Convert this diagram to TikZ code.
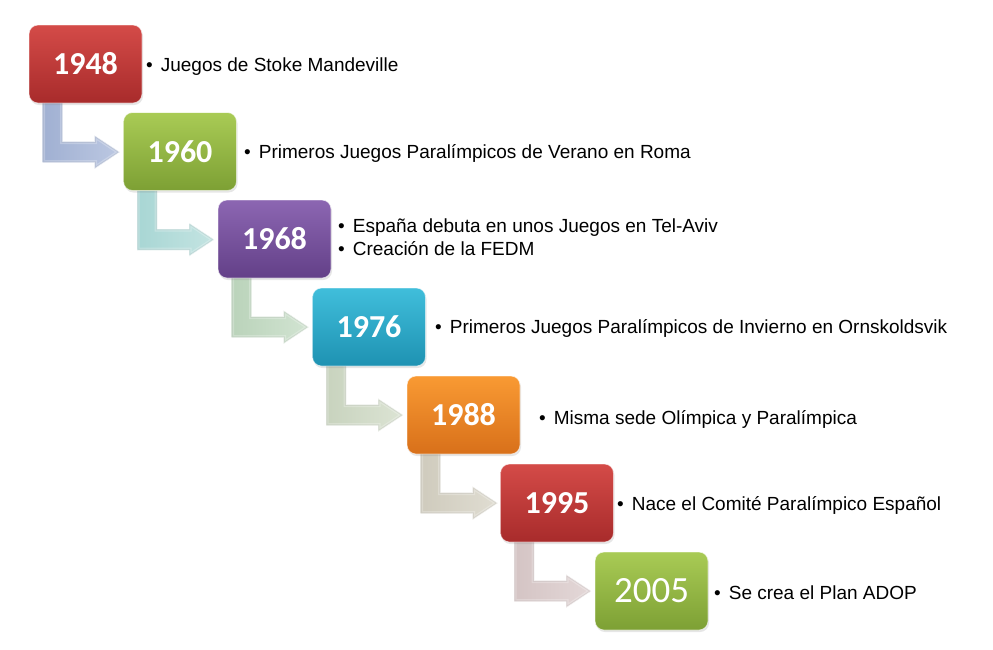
\documentclass[tikz,border=0pt]{standalone}
\usepackage{fontspec}
\setmainfont{Liberation Sans}
\newfontfamily\yearfont{Carlito}
\usetikzlibrary{calc,shadows,backgrounds}
\definecolor{redT}{HTML}{D44B48}
\definecolor{redB}{HTML}{A82B2B}
\definecolor{grnT}{HTML}{A9CB55}
\definecolor{grnB}{HTML}{7DA034}
\definecolor{purT}{HTML}{8C66B2}
\definecolor{purB}{HTML}{634088}
\definecolor{cyaT}{HTML}{40BEDB}
\definecolor{cyaB}{HTML}{1E92B2}
\definecolor{orgT}{HTML}{F99A33}
\definecolor{orgB}{HTML}{D8701A}
\definecolor{arA}{HTML}{A0B0D2}
\definecolor{arAl}{HTML}{BCC8E2}
\definecolor{arB}{HTML}{A8D6D4}
\definecolor{arBl}{HTML}{C4E4E2}
\definecolor{arC}{HTML}{BAD3BA}
\definecolor{arCl}{HTML}{D2E4D2}
\definecolor{arD}{HTML}{C8D3BE}
\definecolor{arDl}{HTML}{DCE4D4}
\definecolor{arE}{HTML}{CFCBBD}
\definecolor{arEl}{HTML}{E0DDD2}
\definecolor{arF}{HTML}{D4C4C4}
\definecolor{arFl}{HTML}{E4D8D8}
\newcommand\arrowpath[1]{($(#1.north west)+(14,70)$) -- ++(20,0) -- ++(0,47) -- ++(32,0) -- ++(0,-6)
    -- ++(25,16.5) -- ++(-25,16.5) -- ++(0,-6) -- ++(-52,0) -- cycle}
\newcommand\bentarrow[3]{%
  \begin{scope}
    \clip \arrowpath{#1};
    \shade[left color=#2, right color=#3] \arrowpath{#1};
    \draw[#2!75!black, line width=2.5pt, opacity=0.3] \arrowpath{#1};
    \draw[white, line width=5pt, opacity=0.25] \arrowpath{#1};
  \end{scope}
  \draw[white, line width=0.5pt, opacity=0.7] \arrowpath{#1};}
\begin{document}
\begin{tikzpicture}[x=1pt,y=-1pt,
  yearbox/.style 2 args={rounded corners=9pt, minimum width=113pt, minimum height=78pt,
    inner sep=0pt, top color=#1, bottom color=#2, draw=white, draw opacity=0.6, line width=0.8pt,
    text=white, font=\yearfont\bfseries\fontsize{32}{32}\selectfont,
    drop shadow={opacity=0.2, shadow xshift=1pt, shadow yshift=-2pt}},
  info/.style={anchor=base west, inner sep=0pt, font=\fontsize{19}{23}\selectfont, align=left}]
\useasboundingbox (0,0) rectangle (993,649);
\node[yearbox={redT}{redB}] (b1) at (85.5,64) {1948};
\node[yearbox={grnT}{grnB}] (b2) at (180,151.5) {1960};
\node[yearbox={purT}{purB}] (b3) at (274.5,239) {1968};
\node[yearbox={cyaT}{cyaB}] (b4) at (369,327) {1976};
\node[yearbox={orgT}{orgB}] (b5) at (463.5,415) {1988};
\node[yearbox={redT}{redB}] (b6) at (557,503) {1995};
\node[yearbox={grnT}{grnB}, font=\yearfont\fontsize{37}{37}\selectfont] (b7) at (651.5,591) {2005};
\begin{pgfonlayer}{background}
\bentarrow{b1}{arA}{arAl}
\bentarrow{b2}{arB}{arBl}
\bentarrow{b3}{arC}{arCl}
\bentarrow{b4}{arD}{arDl}
\bentarrow{b5}{arE}{arEl}
\bentarrow{b6}{arF}{arFl}
\end{pgfonlayer}
\newcommand\bul{•\hspace{8pt}}
\node[info] (t1) at (146,71) {\bul Juegos de Stoke Mandeville};
\node[info] (t2) at (244,158) {\bul Primeros Juegos Paralímpicos de Verano en Roma};
\node[info] (t3) at (338,255) {\bul España debuta en unos Juegos en Tel-Aviv\\\bul Creación de la FEDM};
\node[info] (t4) at (435,333) {\bul Primeros Juegos Paralímpicos de Invierno en Ornskoldsvik};
\node[info] (t5) at (539,424) {\bul Misma sede Olímpica y Paralímpica};
\node[info] (t6) at (617,510) {\bul Nace el Comité Paralímpico Español};
\node[info] (t7) at (714,599) {\bul Se crea el Plan ADOP};
\end{tikzpicture}
\end{document}
